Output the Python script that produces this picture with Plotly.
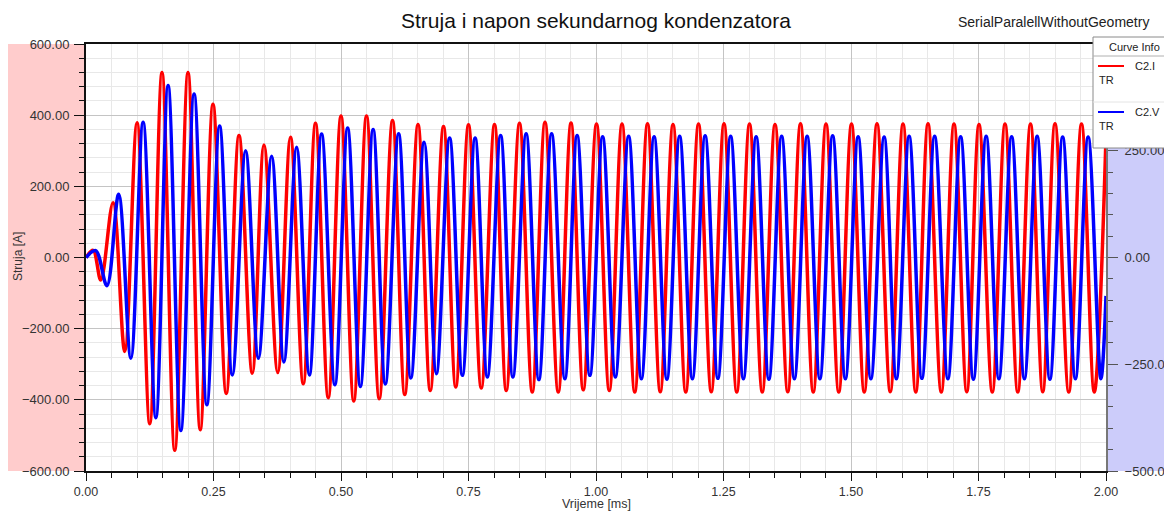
import plotly.graph_objects as go

# C2.I (current) - extreme points, time in ms, current in A
red_t = [
    0.000, 0.014, 0.029, 0.053, 0.076, 0.100, 0.125, 0.149, 0.174, 0.200,
    0.224, 0.249, 0.275, 0.300, 0.326, 0.349, 0.376, 0.401, 0.426, 0.450,
    0.475, 0.500, 0.525, 0.550, 0.575, 0.601, 0.625, 0.651, 0.675, 0.701,
    0.725, 0.750, 0.775, 0.801, 0.824, 0.850, 0.875, 0.900, 0.926, 0.951,
    0.975, 1.001, 1.026,
    1.051, 1.076, 1.101, 1.126, 1.151, 1.176, 1.201, 1.226, 1.251, 1.276,
    1.301, 1.326, 1.351, 1.376, 1.401, 1.426, 1.451, 1.476, 1.501, 1.526,
    1.551, 1.577, 1.602, 1.627, 1.651, 1.677, 1.702, 1.727, 1.751, 1.777,
    1.802, 1.827, 1.852, 1.876, 1.900, 1.927, 1.952, 1.977, 2.000,
]
red_i = [
    0, 20, -63, 154, -264, 379, -467, 520, -542, 520,
    -484, 431, -382, 343, -325, 316, -323, 338, -355, 377,
    -394, 398, -403, 398, -397, 385, -385, 374, -374, 368,
    -364, 373, -367, 374, -374, 377, -378, 380, -378, 378,
    -372, 375, -374,
    375, -378, 376, -377, 374, -378, 375, -377, 376, -378,
    375, -378, 374, -377, 376, -378, 375, -378, 375, -378,
    376, -377, 375, -378, 376, -378, 375, -377, 374, -378,
    375, -378, 375, -377, 376, -378, 375, -378, 340,
]

# C2.V (voltage) - extreme points, time in ms, voltage in V
blue_t = [
    0.000, 0.019, 0.041, 0.064, 0.088, 0.112, 0.137, 0.161, 0.186, 0.212,
    0.237, 0.262, 0.287, 0.313, 0.338, 0.364, 0.388, 0.413, 0.438, 0.462,
    0.488, 0.513, 0.538, 0.563, 0.587, 0.613, 0.637, 0.663, 0.687, 0.713,
    0.738, 0.763, 0.787, 0.813, 0.837, 0.863, 0.888, 0.913, 0.939, 0.963,
    0.988, 1.013, 1.038,
    1.064, 1.089, 1.114, 1.139, 1.164, 1.189, 1.214, 1.239, 1.264, 1.289,
    1.314, 1.339, 1.364, 1.389, 1.414, 1.439, 1.464, 1.489, 1.514, 1.539,
    1.565, 1.589, 1.614, 1.639, 1.664, 1.690, 1.715, 1.740, 1.765, 1.790,
    1.815, 1.840, 1.865, 1.890, 1.915, 1.940, 1.965, 1.990, 2.000,
]
blue_v = [
    0, 16, -66, 148, -236, 317, -375, 403, -405, 383,
    -345, 308, -275, 250, -236, 237, -245, 258, -275, 289,
    -298, 303, -302, 300, -296, 290, -282, 270, -272, 280,
    -276, 280, -280, 286, -280, 290, -286, 290, -284, 286,
    -276, 283, -280,
    284, -284, 283, -285, 284, -284, 285, -283, 284, -284,
    283, -285, 284, -284, 284, -284, 285, -284, 283, -284,
    282, -284, 284, -283, 284, -284, 283, -285, 284, -284,
    283, -284, 284, -285, 282, -284, 282, -284, -90,
]

# right axis labels (the top one sits under the Curve Info box)
volt_ticks = [-500, -250, 0, 250]

FONT = "Liberation Sans, Arial, sans-serif"
TXT = "#333333"

# the page puts the figure 8px in from the top-left corner
OFF = 8
W, H = 1172 - OFF, 511 - OFF


def px_x(p):
    return (p - 86) / 1020


def px_y(p):
    return (471 - p) / 427


fig = go.Figure()

fig.add_trace(go.Scatter(
    x=red_t, y=red_i, mode="lines", name="C2.I",
    line=dict(color="#FF0000", width=3.5, shape="spline", smoothing=1),
))
fig.add_trace(go.Scatter(
    x=blue_t, y=blue_v, mode="lines", name="C2.V", yaxis="y2",
    line=dict(color="#0000FF", width=3.5, shape="spline", smoothing=1),
))

fig.update_layout(
    width=W,
    height=H,
    margin=dict(l=86 - OFF, r=W - (1106 - OFF), t=44 - OFF, b=H - (471 - OFF)),
    paper_bgcolor="white",
    plot_bgcolor="white",
    showlegend=False,
    font=dict(family=FONT, size=13, color=TXT),
    title=dict(
        text="Struja i napon sekundarnog kondenzatora",
        x=0.5, xref="paper", xanchor="center",
        y=1 - (21 - OFF) / H, yanchor="middle",
        font=dict(family=FONT, size=21, color="#111111"),
    ),
    xaxis=dict(
        range=[0, 2],
        dtick=0.25,
        tick0=0,
        tickformat=".2f",
        ticks="outside",
        ticklen=8,
        tickcolor="#111111",
        showline=True,
        linecolor="#111111",
        linewidth=1.5,
        mirror=True,
        showgrid=True,
        gridcolor="#c4c4c4",
        zeroline=False,
        automargin=False,
        minor=dict(dtick=0.05, ticks="outside", ticklen=5, tickcolor="#111111",
                   showgrid=True, gridcolor="#e8e8e8"),
        tickfont=dict(size=12.5, color=TXT),
    ),
    yaxis=dict(
        range=[-600, 600],
        dtick=200,
        tickformat=".2f",
        ticks="outside",
        ticklen=10,
        tickcolor="#111111",
        ticklabelstandoff=2,
        showline=True,
        linecolor="#111111",
        linewidth=2,
        showgrid=True,
        gridcolor="#c4c4c4",
        zeroline=False,
        automargin=False,
        minor=dict(dtick=40, ticks="outside", ticklen=5, tickcolor="#111111",
                   showgrid=True, gridcolor="#e8e8e8"),
        tickfont=dict(size=13, color=TXT),
    ),
    yaxis2=dict(
        range=[-500, 500],
        tickmode="array",
        tickvals=volt_ticks,
        tickformat=".2f",
        overlaying="y",
        side="right",
        ticks="outside",
        ticklen=10,
        tickcolor="#555555",
        ticklabelstandoff=4,
        showline=True,
        linecolor="#777777",
        linewidth=2,
        showgrid=False,
        zeroline=False,
        automargin=False,
        minor=dict(dtick=50, ticks="outside", ticklen=5, tickcolor="#555555", showgrid=False),
        tickfont=dict(size=13, color=TXT),
    ),
)

# coloured side panels behind the axes
fig.add_shape(type="rect", xref="paper", yref="paper", layer="below",
              x0=px_x(7), x1=0, y0=0, y1=1,
              fillcolor="#FFCCCC", line=dict(width=0))
fig.add_shape(type="rect", xref="paper", yref="paper", layer="below",
              x0=1, x1=px_x(1175), y0=0, y1=1,
              fillcolor="#CCCCFA", line=dict(width=0))

# axis titles
fig.add_annotation(text="Vrijeme [ms]", xref="paper", yref="paper",
                   x=0.5, y=px_y(504), xanchor="center", yanchor="middle",
                   showarrow=False, borderpad=0,
                   font=dict(family=FONT, size=12.5, color=TXT))
fig.add_annotation(text="Struja [A]", xref="paper", yref="paper",
                   x=px_x(18), y=px_y(257), xanchor="center", yanchor="middle",
                   textangle=-90, showarrow=False,
                   font=dict(family=FONT, size=12, color=TXT))
fig.add_annotation(text="Napon [V]", xref="paper", yref="paper",
                   x=px_x(1171), y=px_y(258), xanchor="center", yanchor="middle",
                   textangle=90, showarrow=False,
                   font=dict(family=FONT, size=12, color=TXT))

# "Curve Info" box
fig.add_shape(type="rect", xref="paper", yref="paper", layer="above",
              x0=px_x(1093), x1=px_x(1180), y0=px_y(148), y1=px_y(37),
              fillcolor="white", line=dict(color="#8a8a8a", width=1))
fig.add_shape(type="line", xref="paper", yref="paper", layer="above",
              x0=px_x(1093), x1=px_x(1180), y0=px_y(56), y1=px_y(56),
              line=dict(color="#b0b0b0", width=1))
fig.add_shape(type="line", xref="paper", yref="paper", layer="above",
              x0=px_x(1093), x1=px_x(1180), y0=px_y(102), y1=px_y(102),
              line=dict(color="#e4e4e4", width=1))
fig.add_shape(type="line", xref="paper", yref="paper", layer="above",
              x0=px_x(1098), x1=px_x(1124), y0=px_y(66), y1=px_y(66),
              line=dict(color="#FF0000", width=2))
fig.add_shape(type="line", xref="paper", yref="paper", layer="above",
              x0=px_x(1098), x1=px_x(1124), y0=px_y(112), y1=px_y(112),
              line=dict(color="#0000FF", width=2))

box_text = [
    ("Curve Info", 1134, 47, "center"),
    ("C2.I", 1133, 66, "left"),
    ("TR", 1097, 80, "left"),
    ("C2.V", 1133, 112, "left"),
    ("TR", 1097, 126, "left"),
]
for txt, bx, by, anchor in box_text:
    fig.add_annotation(text=txt, xref="paper", yref="paper",
                       x=px_x(bx), y=px_y(by), xanchor=anchor, yanchor="middle",
                       showarrow=False, font=dict(family=FONT, size=11, color="#222222"))

fig.add_annotation(text="SerialParalellWithoutGeometry", xref="paper", yref="paper",
                   x=px_x(1151), y=px_y(22), xanchor="right", yanchor="middle",
                   showarrow=False, font=dict(family=FONT, size=14, color="#222222"))

fig.write_html("out.html")
